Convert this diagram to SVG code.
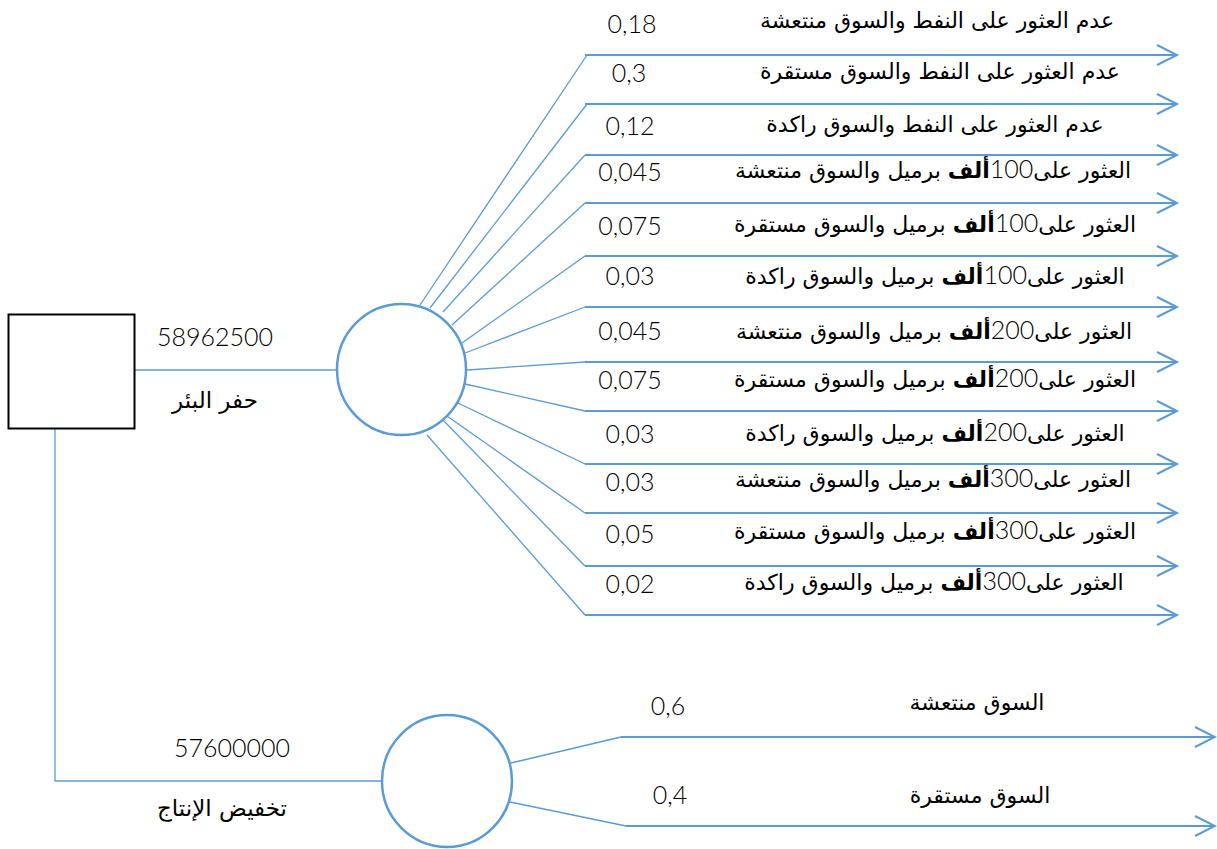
<svg xmlns="http://www.w3.org/2000/svg" width="1217" height="849" viewBox="0 0 1217 849">
<style>
.bg{fill:#ffffff}
.thin{stroke:#5b9bd5;stroke-width:1.3;fill:none}
.out{stroke:#5b9bd5;stroke-width:2.2;fill:none}
.chance{stroke:#5b9bd5;stroke-width:2.5;fill:#ffffff}
.dec{stroke:#000000;stroke-width:2;fill:#ffffff}
.num{font-family:Lato,"Open Sans","Liberation Sans",sans-serif;font-size:25px;font-weight:300;fill:#000000;text-anchor:middle}
.ar{font-family:"DejaVu Sans","Noto Sans",sans-serif;font-size:22px;fill:#000000;text-anchor:middle}
.arL{font-size:23px}
.n100{font-family:Lato,"Open Sans",sans-serif;font-size:25px;font-weight:300}
.b{font-weight:bold}
</style>
<defs>
<marker id="arr" markerWidth="24" markerHeight="24" refX="21" refY="11" orient="auto" markerUnits="userSpaceOnUse">
<path d="M1,1 L21,11 L1,21" fill="none" stroke="#5b9bd5" stroke-width="2"/>
</marker>
</defs>
<rect class="bg" x="0" y="0" width="1217" height="849"/>

<g id="connectors">
<line class="thin" x1="134" y1="370" x2="337" y2="370"/>
<polyline class="thin" points="55,429 55,781 382,781"/>
<line class="thin" x1="420" y1="305" x2="587" y2="55"/>
<line class="thin" x1="430" y1="308" x2="587" y2="104"/>
<line class="thin" x1="443" y1="312" x2="585" y2="155"/>
<line class="thin" x1="452" y1="325" x2="585" y2="203"/>
<line class="thin" x1="462" y1="343" x2="585" y2="256"/>
<line class="thin" x1="465" y1="353" x2="585" y2="307"/>
<line class="thin" x1="467" y1="370" x2="585" y2="362"/>
<line class="thin" x1="465" y1="384" x2="585" y2="411"/>
<line class="thin" x1="458" y1="403" x2="585" y2="464"/>
<line class="thin" x1="447" y1="416" x2="585" y2="513"/>
<line class="thin" x1="443" y1="420" x2="585" y2="566"/>
<line class="thin" x1="427" y1="435" x2="585" y2="615"/>
<line class="out" x1="585" y1="55" x2="1177" y2="55" marker-end="url(#arr)"/>
<line class="out" x1="585" y1="104" x2="1177" y2="104" marker-end="url(#arr)"/>
<line class="out" x1="585" y1="155" x2="1177" y2="155" marker-end="url(#arr)"/>
<line class="out" x1="585" y1="203" x2="1177" y2="203" marker-end="url(#arr)"/>
<line class="out" x1="585" y1="256" x2="1177" y2="256" marker-end="url(#arr)"/>
<line class="out" x1="585" y1="307" x2="1177" y2="307" marker-end="url(#arr)"/>
<line class="out" x1="585" y1="362" x2="1177" y2="362" marker-end="url(#arr)"/>
<line class="out" x1="585" y1="411" x2="1177" y2="411" marker-end="url(#arr)"/>
<line class="out" x1="585" y1="464" x2="1177" y2="464" marker-end="url(#arr)"/>
<line class="out" x1="585" y1="513" x2="1177" y2="513" marker-end="url(#arr)"/>
<line class="out" x1="585" y1="566" x2="1177" y2="566" marker-end="url(#arr)"/>
<line class="out" x1="585" y1="615" x2="1177" y2="615" marker-end="url(#arr)"/>
<line class="thin" x1="511" y1="763" x2="621" y2="737"/>
<line class="thin" x1="510" y1="802" x2="626" y2="826"/>
<line class="out" x1="621" y1="737" x2="1215" y2="737" marker-end="url(#arr)"/>
<line class="out" x1="626" y1="826" x2="1215" y2="826" marker-end="url(#arr)"/>
</g>

<g id="decision">
<rect class="dec" x="8.5" y="314.5" width="126" height="114"/>
</g>
<g id="chance-drill">
<ellipse class="chance" cx="401.5" cy="369.5" rx="64.5" ry="65.5"/>
</g>
<g id="chance-reduce">
<ellipse class="chance" cx="447" cy="781" rx="65" ry="66"/>
</g>

<g id="label-drill">
<text class="num" x="215" y="346">58962500</text>
<text class="ar arL" x="215" y="408" direction="rtl">حفر البئر</text>
</g>
<g id="label-reduce">
<text class="num" x="232" y="757">57600000</text>
<text class="ar arL" x="222" y="816" direction="rtl">تخفيض الإنتاج</text>
</g>

<g id="outcomes-drill">
<text class="num" x="632" y="33">0,18</text>
<text class="ar" x="937" y="28" direction="rtl">عدم العثور على النفط والسوق منتعشة</text>
<text class="num" x="629" y="82">0,3</text>
<text class="ar" x="940" y="79" direction="rtl">عدم العثور على النفط والسوق مستقرة</text>
<text class="num" x="630" y="135">0,12</text>
<text class="ar" x="935" y="132" direction="rtl">عدم العثور على النفط والسوق راكدة</text>
<text class="num" x="630" y="181">0,045</text>
<text class="ar" x="933" y="178" direction="rtl">العثور على<tspan class="n100">100</tspan><tspan class="b">ألف</tspan> برميل والسوق منتعشة</text>
<text class="num" x="630" y="235">0,075</text>
<text class="ar" x="935" y="232" direction="rtl">العثور على<tspan class="n100">100</tspan><tspan class="b">ألف</tspan> برميل والسوق مستقرة</text>
<text class="num" x="630" y="285">0,03</text>
<text class="ar" x="935" y="284" direction="rtl">العثور على<tspan class="n100">100</tspan><tspan class="b">ألف</tspan> برميل والسوق راكدة</text>
<text class="num" x="630" y="340">0,045</text>
<text class="ar" x="934" y="339" direction="rtl">العثور على<tspan class="n100">200</tspan><tspan class="b">ألف</tspan> برميل والسوق منتعشة</text>
<text class="num" x="630" y="389">0,075</text>
<text class="ar" x="935" y="387" direction="rtl">العثور على<tspan class="n100">200</tspan><tspan class="b">ألف</tspan> برميل والسوق مستقرة</text>
<text class="num" x="630" y="443">0,03</text>
<text class="ar" x="935" y="441" direction="rtl">العثور على<tspan class="n100">200</tspan><tspan class="b">ألف</tspan> برميل والسوق راكدة</text>
<text class="num" x="630" y="491">0,03</text>
<text class="ar" x="933" y="487" direction="rtl">العثور على<tspan class="n100">300</tspan><tspan class="b">ألف</tspan> برميل والسوق منتعشة</text>
<text class="num" x="630" y="543">0,05</text>
<text class="ar" x="935" y="539" direction="rtl">العثور على<tspan class="n100">300</tspan><tspan class="b">ألف</tspan> برميل والسوق مستقرة</text>
<text class="num" x="630" y="593">0,02</text>
<text class="ar" x="934" y="590" direction="rtl">العثور على<tspan class="n100">300</tspan><tspan class="b">ألف</tspan> برميل والسوق راكدة</text>
</g>

<g id="outcomes-reduce">
<text class="num" x="668" y="715">0,6</text>
<text class="ar" x="977" y="710" direction="rtl">السوق منتعشة</text>
<text class="num" x="670" y="804">0,4</text>
<text class="ar" x="980" y="803" direction="rtl">السوق مستقرة</text>
</g>
</svg>
